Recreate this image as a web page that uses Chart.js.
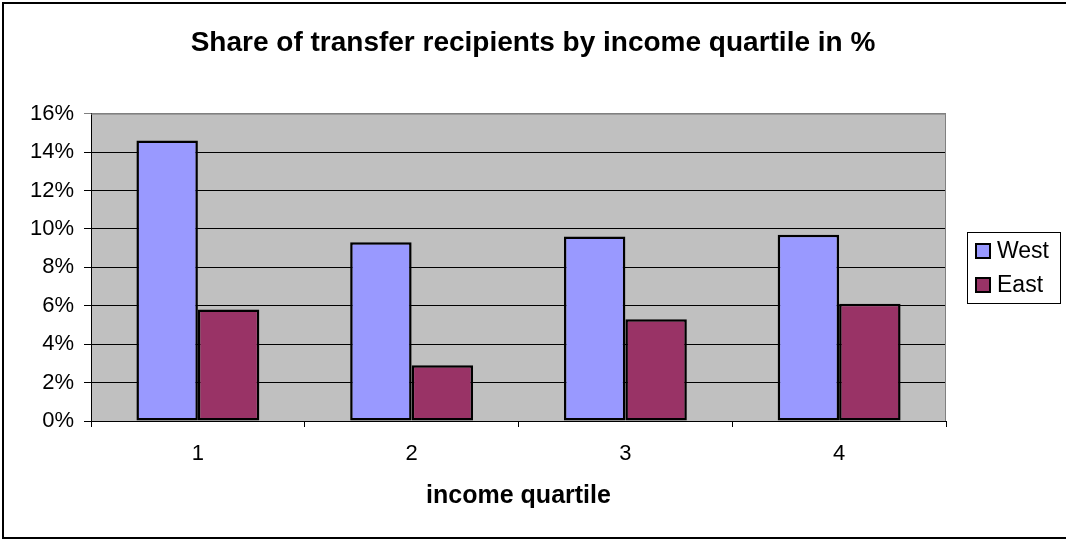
<!DOCTYPE html>
<html>
<head>
<meta charset="utf-8">
<script src="https://cdn.jsdelivr.net/npm/chart.js@4"></script>
<style>
  html, body { margin: 0; padding: 0; background: #fff; }
  #wrap { width: 1066px; height: 539px; position: relative; }
</style>
</head>
<body>
<div id="wrap"><canvas id="chart"></canvas></div>
<script>
const quartiles = ['1', '2', '3', '4'];
const westShare = [14.6, 9.3, 9.6, 9.7];
const eastShare = [5.8, 2.9, 5.3, 6.1];
const seriesNames = ['West', 'East'];
const seriesColours = ['#9999FF', '#993366'];

const FONT = "'Liberation Sans', Arial, sans-serif";

// grey plot area + frame round the whole chart + boxed legend, Excel style
const excelFrame = {
  id: 'excelFrame',
  beforeDraw(chart) {
    const { ctx, chartArea: a } = chart;
    ctx.save();
    ctx.fillStyle = '#C0C0C0';
    ctx.fillRect(a.left, a.top, a.right - a.left, a.bottom - a.top);
    ctx.restore();
  },
  beforeDatasetsDraw(chart) {
    const { ctx, chartArea: a } = chart;
    ctx.save();
    ctx.strokeStyle = '#808080';
    ctx.lineWidth = 1;
    ctx.beginPath();
    ctx.moveTo(a.left, a.top + 0.5);
    ctx.lineTo(a.right - 0.5, a.top + 0.5);
    ctx.lineTo(a.right - 0.5, a.bottom);
    ctx.stroke();
    ctx.restore();
  },
  afterDraw(chart) {
    const { ctx } = chart;
    ctx.save();
    ctx.strokeStyle = '#000';
    ctx.lineWidth = 2;
    ctx.strokeRect(3, 3, 1070, 535);

    // legend
    const lx = 967, ly = 232, lw = 93, lh = 71;
    ctx.lineWidth = 1;
    ctx.fillStyle = '#fff';
    ctx.fillRect(lx, ly, lw, lh);
    ctx.strokeRect(lx + 0.5, ly + 0.5, lw, lh);
    ctx.font = '23px ' + FONT;
    ctx.textBaseline = 'middle';
    chart.data.datasets.forEach((ds, i) => {
      const cy = ly + 19 + i * 34;
      ctx.fillStyle = ds.backgroundColor;
      ctx.fillRect(lx + 9, cy - 7, 14, 14);
      ctx.lineWidth = 2;
      ctx.strokeStyle = '#000';
      ctx.strokeRect(lx + 9, cy - 7, 14, 14);
      ctx.fillStyle = '#000';
      ctx.fillText(ds.label, lx + 30, cy + 1);
    });
    ctx.restore();
  }
};

new Chart(document.getElementById('chart'), {
  type: 'bar',
  data: {
    labels: quartiles,
    datasets: [
      {
        label: seriesNames[0],
        data: westShare,
        backgroundColor: seriesColours[0],
        borderColor: '#000',
        borderWidth: 2.5,
        borderSkipped: false,
      },
      {
        label: seriesNames[1],
        data: eastShare,
        backgroundColor: seriesColours[1],
        borderColor: '#000',
        borderWidth: 2.5,
        borderSkipped: false,
      },
    ],
  },
  options: {
    responsive: true,
    maintainAspectRatio: false,
    animation: false,
    layout: { padding: 0 },
    datasets: {
      bar: { categoryPercentage: 0.575, barPercentage: 1 },
    },
    plugins: {
      legend: { display: false },
      tooltip: { enabled: false },
      title: {
        display: true,
        text: 'Share of transfer recipients by income quartile in %',
        color: '#000',
        font: { family: FONT, size: 28, weight: 'bold' },
        padding: { top: 26, bottom: 54 },
      },
    },
    scales: {
      x: {
        afterFit: (scale) => { scale.height = 118; },
        grid: {
          display: true,
          offset: true,
          drawOnChartArea: false,
          color: '#000',
          tickLength: 6,
        },
        border: { display: true, color: '#000', width: 1 },
        ticks: {
          color: '#000',
          font: { family: FONT, size: 22 },
          padding: 14,
        },
        title: {
          display: true,
          text: 'income quartile',
          color: '#000',
          font: { family: FONT, size: 25, weight: 'bold' },
          padding: { top: 0, bottom: 28 },
        },
      },
      y: {
        min: 0,
        max: 16,
        afterFit: (scale) => { scale.width = 91; },
        grid: {
          color: (c) => (c.tick && c.tick.value === 16 ? '#808080' : '#000'),
          tickLength: 7,
        },
        border: { display: true, color: '#000', width: 1 },
        ticks: {
          stepSize: 2,
          color: '#000',
          font: { family: FONT, size: 22 },
          padding: 10,
          callback: (v) => v + '%',
        },
      },
      // empty right-hand axis that only reserves room for the legend
      legendSpace: {
        position: 'right',
        display: true,
        afterFit: (scale) => { scale.width = 120; },
        grid: { display: false },
        border: { display: false },
        ticks: { display: false },
      },
    },
  },
  plugins: [excelFrame],
});
</script>
</body>
</html>
